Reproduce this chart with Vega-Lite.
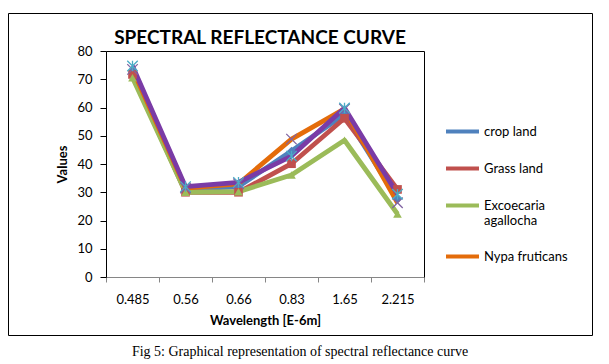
{
  "$schema": "https://vega.github.io/schema/vega-lite/v6.json",
  "padding": {"left": 7, "top": 12, "right": 18, "bottom": 0},
  "background": "white",
  "title": {"text": "Fig 5: Graphical representation of spectral reflectance curve", "orient": "bottom", "anchor": "middle", "font": "Liberation Serif", "fontSize": 14, "fontWeight": "normal", "color": "black", "offset": 9},
  "config": {"view": {"stroke": "black", "strokeWidth": 1}, "font": "Lato"},
  "vconcat": [
    {
      "width": 584,
      "height": 322,
      "title": {"text": "SPECTRAL REFLECTANCE CURVE", "anchor": "middle", "dx": -40, "dy": 20, "offset": -30, "baseline": "alphabetic", "font": "Lato", "fontSize": 19, "fontWeight": "bold", "color": "black"},
      "data": {"values": [
        {"w": "0.485", "s": "crop land", "v": 73},
        {"w": "0.56", "s": "crop land", "v": 31},
        {"w": "0.66", "s": "crop land", "v": 32},
        {"w": "0.83", "s": "crop land", "v": 44.6},
        {"w": "1.65", "s": "crop land", "v": 57.5},
        {"w": "2.215", "s": "crop land", "v": 27.6},
        {"w": "0.485", "s": "Grass land", "v": 71.7},
        {"w": "0.56", "s": "Grass land", "v": 30},
        {"w": "0.66", "s": "Grass land", "v": 30},
        {"w": "0.83", "s": "Grass land", "v": 40.1},
        {"w": "1.65", "s": "Grass land", "v": 56.2},
        {"w": "2.215", "s": "Grass land", "v": 31},
        {"w": "0.485", "s": "Excoecaria agallocha", "v": 70.5},
        {"w": "0.56", "s": "Excoecaria agallocha", "v": 30},
        {"w": "0.66", "s": "Excoecaria agallocha", "v": 30.2},
        {"w": "0.83", "s": "Excoecaria agallocha", "v": 36.1},
        {"w": "1.65", "s": "Excoecaria agallocha", "v": 48.4},
        {"w": "2.215", "s": "Excoecaria agallocha", "v": 22.3},
        {"w": "0.485", "s": "Nypa fruticans", "v": 73.5},
        {"w": "0.56", "s": "Nypa fruticans", "v": 31.5},
        {"w": "0.66", "s": "Nypa fruticans", "v": 33},
        {"w": "0.83", "s": "Nypa fruticans", "v": 48.8},
        {"w": "1.65", "s": "Nypa fruticans", "v": 59.5},
        {"w": "2.215", "s": "Nypa fruticans", "v": 26.3},
        {"w": "0.485", "s": "Series5", "v": 74.7},
        {"w": "0.56", "s": "Series5", "v": 32},
        {"w": "0.66", "s": "Series5", "v": 33.5},
        {"w": "0.83", "s": "Series5", "v": 42.8},
        {"w": "1.65", "s": "Series5", "v": 59.8},
        {"w": "2.215", "s": "Series5", "v": 29.3}
      ]},
      "layer": [
        {
          "mark": {"type": "line", "strokeWidth": 4.8, "strokeJoin": "round"},
          "encoding": {
            "x": {"field": "w", "type": "nominal", "sort": null,
              "scale": {"type": "band", "range": [98, 416], "paddingInner": 0, "paddingOuter": 0},
              "axis": {"orient": "bottom", "offset": -58, "title": "Wavelength [E-6m]", "titleFont": "Lato", "titleFontSize": 13, "titleFontWeight": "bold", "titleColor": "black", "titlePadding": 8, "labelFont": "Lato", "labelFontSize": 13, "labelColor": "black", "labelAngle": 0, "labelPadding": 11, "domainColor": "#868686", "tickColor": "#868686", "tickSize": 5, "tickBand": "extent", "grid": false}},
            "y": {"field": "v", "type": "quantitative",
              "scale": {"domain": [0, 80], "range": [264, 38], "nice": false, "zero": true},
              "axis": {"orient": "left", "offset": -98, "values": [0, 10, 20, 30, 40, 50, 60, 70, 80], "title": "Values", "titleFont": "Lato", "titleFontSize": 13, "titleFontWeight": "bold", "titleColor": "black", "titlePadding": 7, "labelFont": "Lato", "labelFontSize": 13, "labelColor": "black", "labelPadding": 8, "domainColor": "black", "tickColor": "black", "tickSize": 6, "grid": false}},
            "color": {"field": "s", "type": "nominal", "sort": null,
              "scale": {"domain": ["crop land", "Grass land", "Excoecaria agallocha", "Nypa fruticans", "Series5"], "range": ["#4F81BD", "#C0504D", "#9BBB59", "#E46C0A", "#7A3BA6"]},
              "legend": {"values": ["crop land", "Grass land", "Excoecaria agallocha", "Nypa fruticans"], "title": null, "orient": "none", "legendX": 436, "legendY": 100, "padding": 0, "symbolType": "stroke", "symbolSize": 1089, "symbolStrokeWidth": 4, "labelOffset": 3, "labelFont": "Lato", "labelFontSize": 13, "labelColor": "black", "rowPadding": 10, "labelLimit": 200,
                "labelExpr": "datum.label == 'Excoecaria agallocha' ? ['Excoecaria', 'agallocha'] : datum.label"}}
          }
        },
        {
          "transform": [{"filter": "datum.s == 'crop land' || datum.s == 'Grass land' || datum.s == 'Excoecaria agallocha'"}],
          "mark": {"type": "point", "filled": true, "opacity": 1, "size": 75},
          "encoding": {
            "x": {"field": "w", "type": "nominal", "sort": null, "axis": {"orient": "top", "offset": -38, "labels": false, "ticks": false, "title": null, "domainColor": "black", "grid": false}},
            "y": {"field": "v", "type": "quantitative", "axis": {"orient": "right", "offset": -168, "labels": false, "ticks": false, "title": null, "domainColor": "black", "grid": false}},
            "color": {"field": "s", "type": "nominal", "legend": null,
              "scale": {"domain": ["crop land", "Grass land", "Excoecaria agallocha"], "range": ["#4F81BD", "#C0504D", "#9BBB59"]}},
            "shape": {"field": "s", "type": "nominal", "legend": null,
              "scale": {"domain": ["crop land", "Grass land", "Excoecaria agallocha"], "range": ["diamond", "square", "triangle-up"]}}
          }
        },
        {
          "transform": [{"filter": "datum.s == 'Nypa fruticans' || datum.s == 'Series5'"}],
          "mark": {"type": "point", "filled": false, "opacity": 1, "size": 110, "strokeWidth": 1.3},
          "encoding": {
            "x": {"field": "w", "type": "nominal", "sort": null, "axis": null},
            "y": {"field": "v", "type": "quantitative", "axis": null},
            "color": {"field": "s", "type": "nominal", "legend": null,
              "scale": {"domain": ["Nypa fruticans", "Series5"], "range": ["#8064A2", "#4BACC6"]}},
            "shape": {"field": "s", "type": "nominal", "legend": null,
              "scale": {"domain": ["Nypa fruticans", "Series5"], "range": ["M-1,-1L1,1M-1,1L1,-1", "M-1,-1L1,1M-1,1L1,-1M0,-1L0,1"]}}
          }
        }
      ],
      "resolve": {"scale": {"color": "independent", "shape": "independent"}, "axis": {"x": "independent", "y": "independent"}}
    }
  ]
}
